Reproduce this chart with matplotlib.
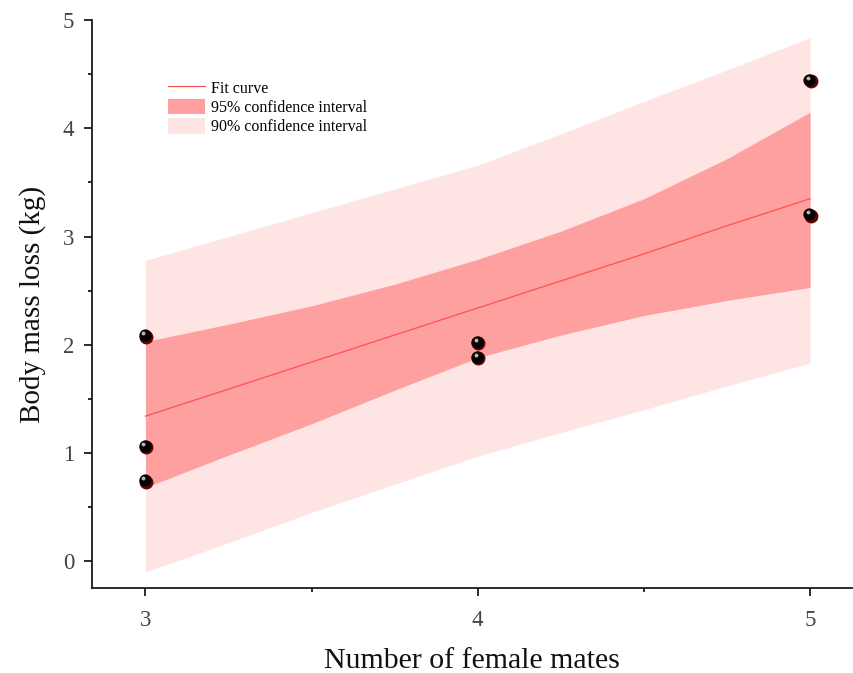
import matplotlib
matplotlib.use('Agg')
import matplotlib.pyplot as plt
from matplotlib.transforms import offset_copy
from matplotlib.ticker import MultipleLocator

plt.rcParams['font.family'] = ['Liberation Serif', 'DejaVu Serif']

# Observed data
mates = [3, 3, 3, 4, 4, 5, 5]
mass_loss = [2.08, 1.06, 0.74, 2.02, 1.88, 4.44, 3.20]

# Fit curve and bands
band_x = [3.0, 3.25, 3.5, 3.75, 4.0, 4.25, 4.5, 4.75, 5.0]
fit_y = [1.34, 1.59, 1.84, 2.09, 2.34, 2.59, 2.84, 3.10, 3.35]
ci95_hi = [2.03, 2.19, 2.36, 2.56, 2.79, 3.05, 3.35, 3.72, 4.15]
ci95_lo = [0.68, 0.98, 1.27, 1.58, 1.88, 2.09, 2.27, 2.41, 2.53]
ci90_hi = [2.78, 3.00, 3.22, 3.44, 3.66, 3.95, 4.25, 4.54, 4.84]
ci90_lo = [-0.10, 0.17, 0.45, 0.71, 0.97, 1.19, 1.40, 1.62, 1.83]

LIGHT = '#FFE4E4'
DARK = '#FFA0A0'
LINE = '#FF5050'
AX = '#1a1a1a'

fig = plt.figure(figsize=(8.54, 6.73), dpi=100)
ax = fig.add_axes([0.108, 0.126, 0.89, 0.844])

ax.fill_between(band_x, ci90_lo, ci90_hi, color=LIGHT, lw=0, zorder=1,
                label='90% confidence interval')
ax.fill_between(band_x, ci95_lo, ci95_hi, color=DARK, lw=0, zorder=2,
                label='95% confidence interval')
ax.plot(band_x, fit_y, color=LINE, lw=0.9, zorder=3, label='Fit curve')

# glossy sphere markers: dark red base, black body, grey highlight
tr_r = offset_copy(ax.transData, fig=fig, x=0.5, y=-0.5, units='points')
ax.scatter(mates, mass_loss, s=100, color='#5c0606', lw=0, zorder=4, transform=tr_r)
tr_b = offset_copy(ax.transData, fig=fig, x=-0.6, y=0.6, units='points')
ax.scatter(mates, mass_loss, s=78, color='#050000', lw=0, zorder=5, transform=tr_b)
tr_h = offset_copy(ax.transData, fig=fig, x=-1.5, y=2.1, units='points')
ax.scatter(mates, mass_loss, s=8, color='#b5b5b5', lw=0, zorder=6, transform=tr_h)

ax.set_xlim(2.84, 5.127)
ax.set_ylim(-0.25, 5)
ax.set_xticks([3, 4, 5])
ax.set_yticks([0, 1, 2, 3, 4, 5])
ax.xaxis.set_minor_locator(MultipleLocator(0.5))
ax.yaxis.set_minor_locator(MultipleLocator(0.5))

for s in ['top', 'right']:
    ax.spines[s].set_visible(False)
for s in ['left', 'bottom']:
    ax.spines[s].set_linewidth(1.3)
    ax.spines[s].set_color(AX)

ax.tick_params(which='major', direction='out', length=6, width=1.3, color=AX,
               labelsize=16.5, labelcolor='#444444', pad=7)
ax.tick_params(axis='x', which='major', pad=10)
ax.tick_params(which='minor', direction='out', length=3, width=1.3, color=AX)

ax.set_xlabel('Number of female mates', fontsize=21.5, color='#111111', labelpad=12)
ax.set_ylabel('Body mass loss (kg)', fontsize=21, color='#111111', labelpad=12)

h, l = ax.get_legend_handles_labels()
order = [2, 1, 0]
ax.legend([h[i] for i in order], [l[i] for i in order], loc='upper left',
          bbox_to_anchor=(0.1, 0.896), frameon=False, fontsize=11.5,
          handlelength=2.3, handleheight=1.15, labelspacing=0.12,
          handletextpad=0.4, borderaxespad=0, borderpad=0)

fig.savefig('out.png', dpi=100)
